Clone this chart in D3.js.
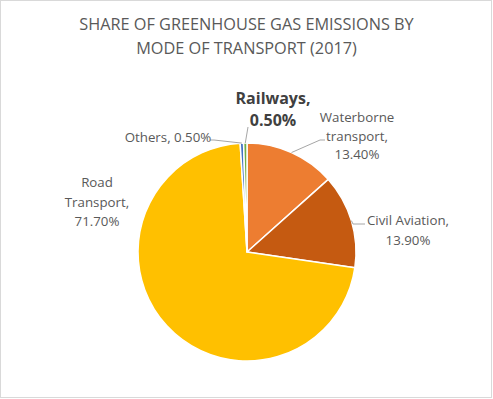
<!DOCTYPE html>
<html>
<head>
<meta charset="utf-8">
<script src="https://cdn.jsdelivr.net/npm/d3@7"></script>
<style>
  body { margin: 0; background: #fff; }
  svg { display: block; }
</style>
</head>
<body>
<div id="chart"></div>
<script>
// data, clockwise from 12 o'clock
const categories = ["Waterborne transport", "Civil Aviation", "Road Transport", "Others", "Railways"]
const shares = [13.4, 13.9, 71.7, 0.5, 0.5]
const colors = ["#ED7D31", "#C55A11", "#FFC000", "#4472C4", "#70AD47"]
const labelLines = [
    ["Waterborne", "transport,", "13.40%"],
    ["Civil Aviation,", "13.90%"],
    ["Road", "Transport,", "71.70%"],
    ["Others, 0.50%"],
    ["Railways,", "0.50%"]
]
const titleLines = ["SHARE OF GREENHOUSE GAS EMISSIONS BY", "MODE OF TRANSPORT (2017)"]

const width = 493
const height = 399
const cx = 247, cy = 252, radius = 109
const font = "'Open Sans', 'Noto Sans', sans-serif"

// where each label block sits (centre x, first line y) and its leader line
const labelLayout = [
    {x: 357, y: 122, lh: 18.5, leader: [[325, 140], [320, 140]]},
    {x: 408, y: 225, lh: 20, leader: [[365, 224], [353, 224]]},
    {x: 97, y: 187, lh: 19.5, leader: null},
    {x: 168, y: 142, lh: 19, leader: [[210, 140], [214, 140]]},
    {x: 273, y: 104, lh: 22, bold: true, leader: [[248, 127]]}
]

const svg = d3.select("#chart").append("svg")
    .attr("width", width)
    .attr("height", height)

svg.append("rect")
    .attr("x", 0.5).attr("y", 0.5)
    .attr("width", width - 2).attr("height", height - 2)
    .attr("fill", "#fff")
    .attr("stroke", "#D9D9D9")

svg.append("g")
    .selectAll("text")
    .data(titleLines)
    .join("text")
      .attr("x", width / 2)
      .attr("y", (d, i) => 30 + i * 24)
      .attr("text-anchor", "middle")
      .attr("fill", "#595959")
      .style("font", `16.3px ${font}`)
      .text(d => d)

const pie = d3.pie().sort(null).value(d => d)
const arcs = pie(shares)
const arc = d3.arc().innerRadius(0).outerRadius(radius)

const g = svg.append("g").attr("transform", `translate(${cx},${cy})`)

g.selectAll("path")
    .data(arcs)
    .join("path")
      .attr("d", arc)
      .attr("fill", (d, i) => colors[i])
      .attr("stroke", "#fff")
      .attr("stroke-width", 1.5)
      .attr("stroke-linejoin", "round")

// leader lines end on the slice edge at the mid angle
const edge = d3.arc().innerRadius(radius).outerRadius(radius)
const gLines = svg.append("g")
    .attr("fill", "none")
    .attr("stroke", "#A6A6A6")
    .attr("stroke-width", 1)

arcs.forEach((a, i) => {
    const lay = labelLayout[i]
    if (!lay.leader) return
    const [ex, ey] = edge.centroid(a)
    const pts = lay.leader.concat([[cx + ex, cy + ey]])
    gLines.append("path").attr("d", d3.line()(pts))
})

const gLabels = svg.append("g")
labelLines.forEach((lines, i) => {
    const lay = labelLayout[i]
    gLabels.append("g")
        .selectAll("text")
        .data(lines)
        .join("text")
          .attr("x", lay.x)
          .attr("y", (d, j) => lay.y + j * lay.lh)
          .attr("text-anchor", "middle")
          .attr("fill", lay.bold ? "#404040" : "#595959")
          .style("font", `${lay.bold ? "bold 16px" : "13.3px"} ${font}`)
          .text(d => d)
})
</script>
</body>
</html>
